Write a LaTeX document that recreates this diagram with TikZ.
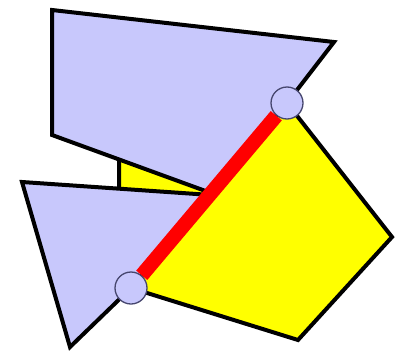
\documentclass[tikz,border=0pt]{standalone}
\definecolor{lblue}{RGB}{200,200,252}
\definecolor{pyellow}{RGB}{255,255,0}
\definecolor{pred}{RGB}{255,0,0}
\definecolor{cedge}{RGB}{70,70,110}
\begin{document}
\begin{tikzpicture}[x=1pt,y=-1pt,
  poly/.style={draw=black,line width=4pt,line join=miter},
  vtx/.style={circle,fill=lblue,draw=cedge,line width=1.3pt,minimum size=32pt,inner sep=0pt}]
\useasboundingbox (0,0) rectangle (396,351);
% key points
\coordinate (P) at (287,103);
\coordinate (Q) at (131,288);
% yellow polygon (back)
\fill[pyellow] (P) -- (392,237) -- (298,340) -- (Q) -- (119,240) -- (119,150) -- cycle;
\draw[poly] (P) -- (392,237) -- (298,340) -- (Q) -- (119,240) -- (119,150) -- cycle;
% upper blue polygon
\filldraw[poly,fill=lblue] (52,10) -- (334,42) -- (P) -- (211,193) -- (52,135) -- cycle;
% lower blue triangle
\filldraw[poly,fill=lblue] (22,182) -- (211,195) -- (Q) -- (70,347) -- cycle;
% red cut line and end points
\node[vtx] (a) at (P) {};
\node[vtx] (b) at (Q) {};
\draw[pred,line width=14.5pt] (a) -- (b);
\end{tikzpicture}
\end{document}
